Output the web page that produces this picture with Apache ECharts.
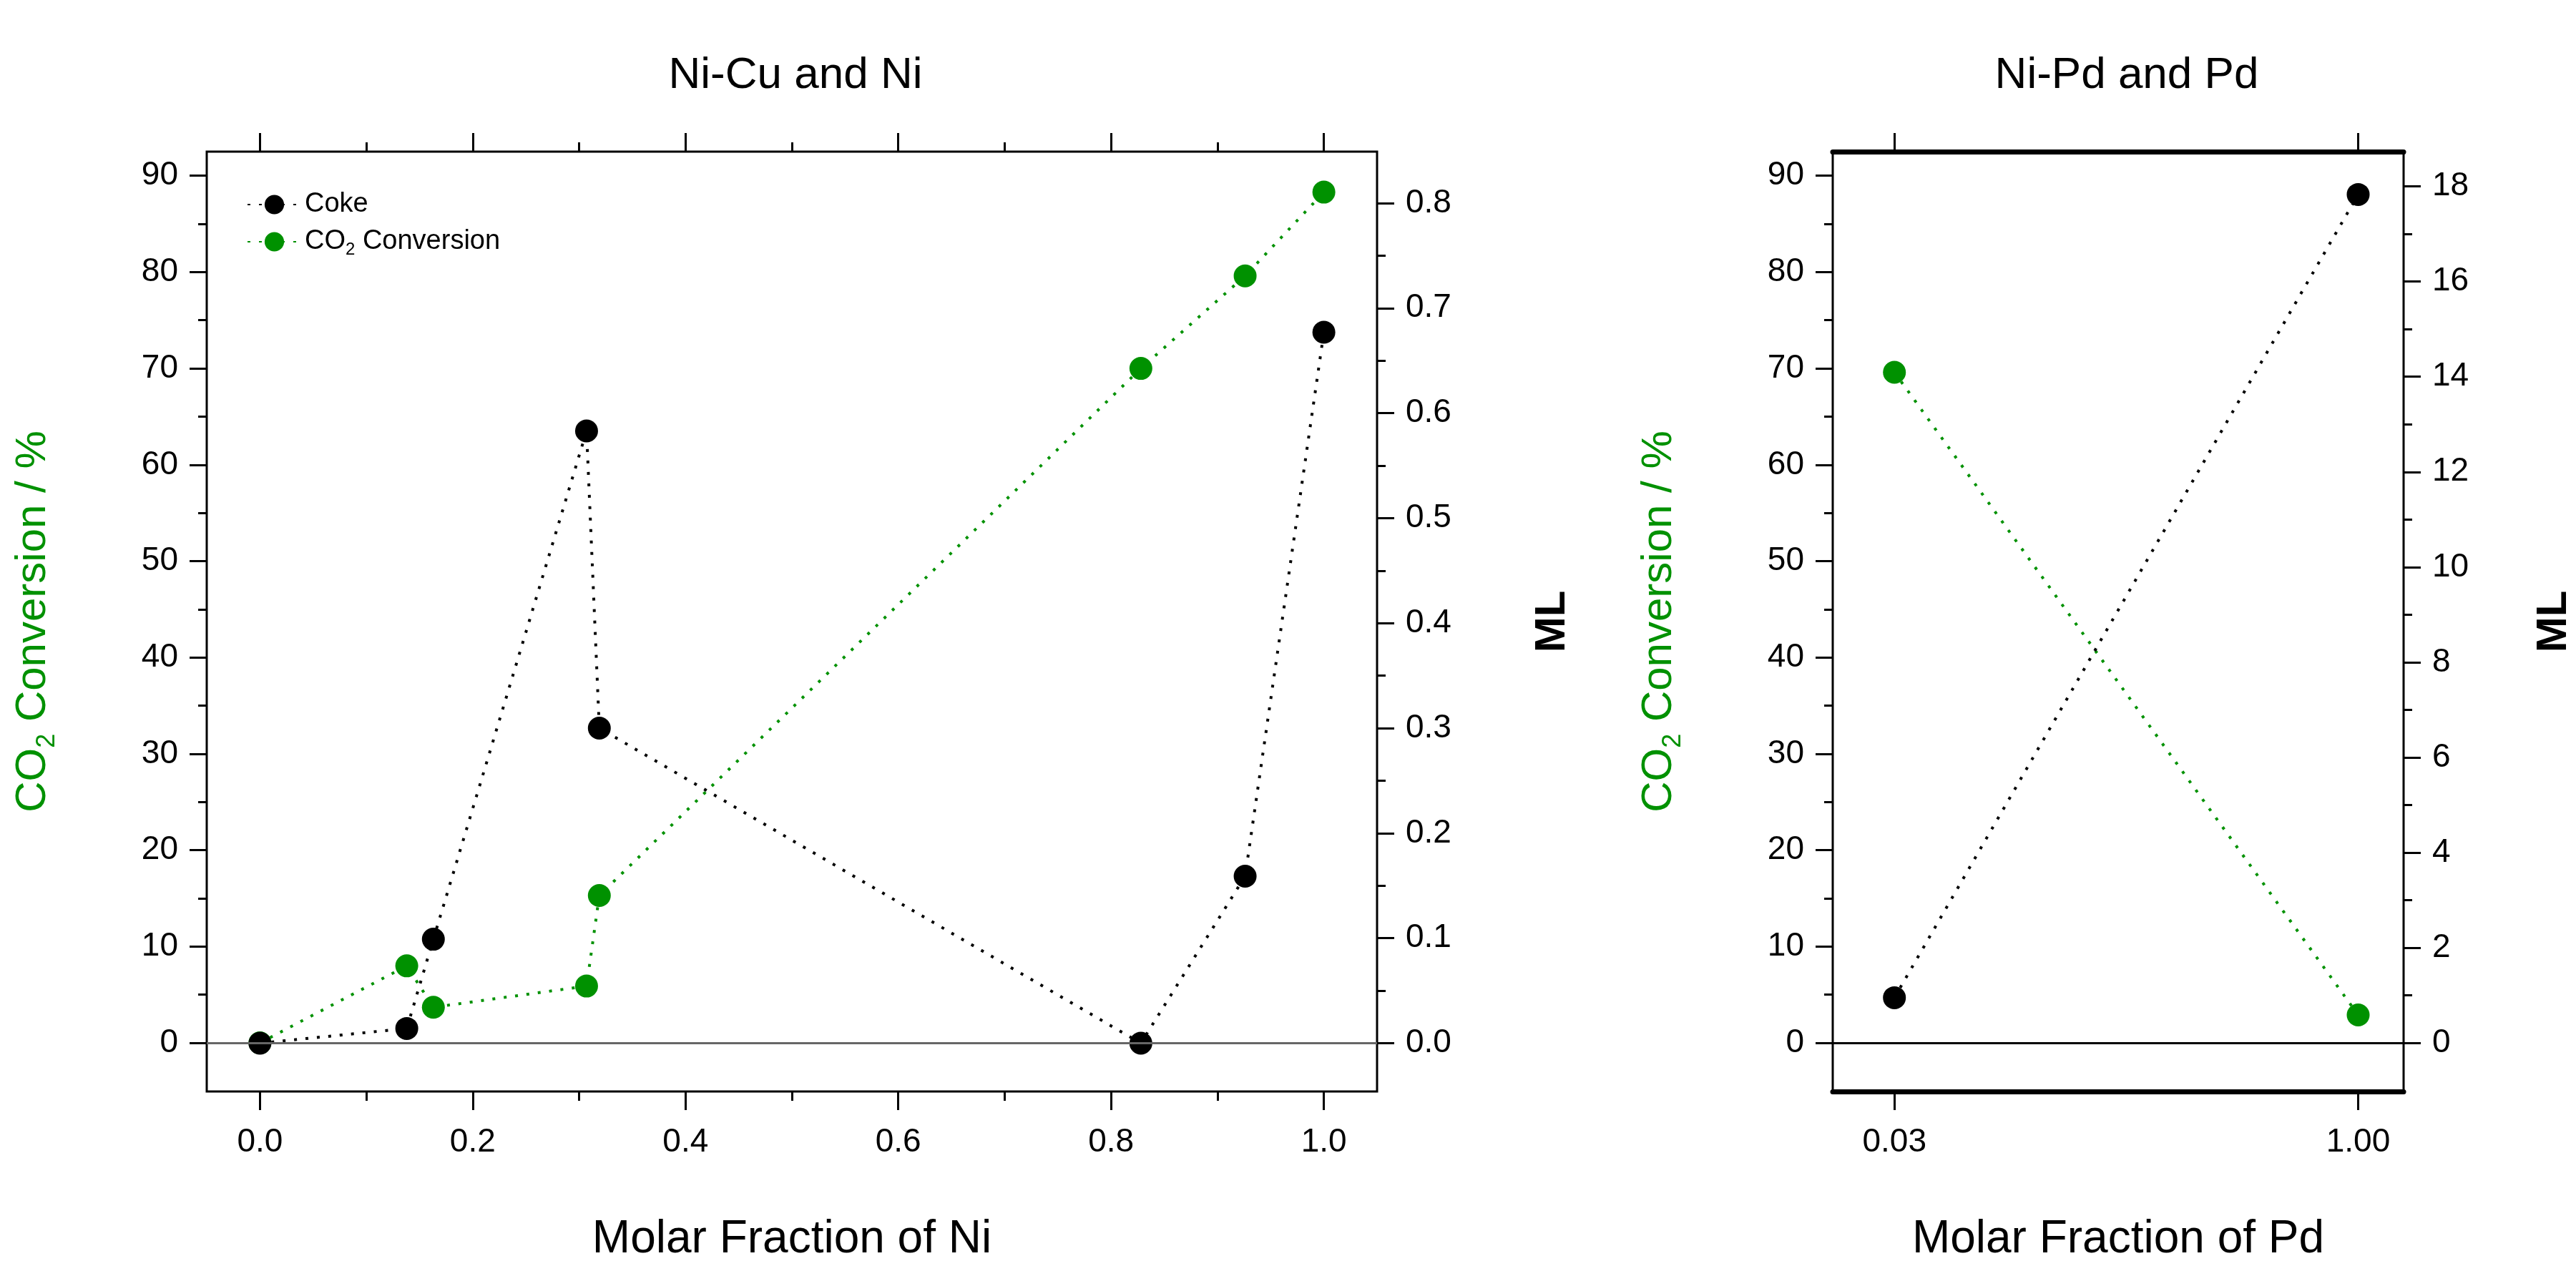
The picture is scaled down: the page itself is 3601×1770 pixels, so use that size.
<!DOCTYPE html>
<html>
<head>
<meta charset="utf-8">
<script src="https://cdn.jsdelivr.net/npm/echarts@6/dist/echarts.min.js"></script>
<style>
  html, body { margin: 0; padding: 0; background: #fff; }
  #chart { width: 3601px; height: 1770px; }
</style>
</head>
<body>
<div id="chart"></div>
<script>
// Ni-Cu and Ni panel
var niFraction = [0.0, 0.138, 0.163, 0.307, 0.319, 0.828, 0.926, 1.0];
var niCo2 = [0.0, 8.0, 3.7, 5.9, 15.3, 70.0, 79.6, 88.3];
var niCoke = [0.0, 0.014, 0.099, 0.583, 0.300, 0.0, 0.159, 0.677];
// Ni-Pd and Pd panel
var pdFraction = [0.03, 1.00];
var pdCo2 = [69.6, 2.9];
var pdCoke = [0.95, 17.83];
// tick labels
var co2Ticks = [0, 10, 20, 30, 40, 50, 60, 70, 80, 90];
var co2Minor = [5, 15, 25, 35, 45, 55, 65, 75, 85];
var niMLTicks = [0, 0.1, 0.2, 0.3, 0.4, 0.5, 0.6, 0.7, 0.8];
var niMLMinor = [0.05, 0.15, 0.25, 0.35, 0.45, 0.55, 0.65, 0.75];
var pdMLTicks = [0, 2, 4, 6, 8, 10, 12, 14, 16, 18];
var pdMLMinor = [1, 3, 5, 7, 9, 11, 13, 15, 17];
var niXTicks = [0, 0.2, 0.4, 0.6, 0.8, 1.0];
var niXMinor = [0.1, 0.3, 0.5, 0.7, 0.9];

var GREEN = '#009100';
var tickFont = 'Liberation Sans Narrow, Arial Narrow, Liberation Sans, sans-serif';
var labelFont = 'Liberation Sans Narrow, Liberation Sans, sans-serif';

var chart = echarts.init(document.getElementById('chart'));

function pairs(xs, ys) {
    return xs.map(function(x, i) { return [x, ys[i]]; });
}

function valAxis(o) {
    return {
        type: 'value',
        gridIndex: o.grid,
        position: o.position,
        min: o.min,
        max: o.max,
        name: o.name || '',
        nameLocation: 'middle',
        nameGap: o.nameGap || 0,
        nameRotate: o.nameRotate,
        nameTextStyle: o.nameStyle,
        splitLine: { show: false },
        axisLine: { show: false, onZero: false },
        axisTick: {
            show: true, inside: false, length: o.length,
            lineStyle: { color: '#000', width: 3 },
            customValues: o.ticks
        },
        axisLabel: {
            show: o.showLabel, margin: o.margin || 40,
            fontSize: 46, fontFamily: tickFont, color: '#000',
            customValues: o.ticks,
            formatter: function(v) { return o.digits != null ? Number(v).toFixed(o.digits) : String(v); }
        }
    };
}

var yAxes = [];
var xAxes = [];
// grid 0: left panel, grid 1: right panel
[0, 1].forEach(function(g) {
    yAxes.push(valAxis({ grid: g, position: 'left', min: -5.04, max: 92.5, ticks: co2Ticks, length: 24, showLabel: true,
        name: '{a|CO}{s|2}{a| Conversion / %}', nameGap: g === 0 ? 205 : 205, nameRotate: 90,
        nameStyle: { rich: {
            a: { fontSize: 60, color: GREEN, fontFamily: 'Liberation Sans, sans-serif' },
            s: { fontSize: 36, color: GREEN, fontFamily: 'Liberation Sans, sans-serif', verticalAlign: 'bottom', padding: [40, 0, 0, 0] }
        } } }));
    yAxes.push(valAxis({ grid: g, position: 'left', min: -5.04, max: 92.5, ticks: co2Minor, length: 12, showLabel: false }));
});
yAxes.push(valAxis({ grid: 0, position: 'right', min: -0.046, max: 0.849, ticks: niMLTicks, length: 24, showLabel: true, digits: 1,
    name: 'ML', nameGap: 215, nameRotate: 90,
    nameStyle: { fontSize: 60, fontWeight: 'bold', color: '#000', fontFamily: 'Liberation Sans, sans-serif' } }));
yAxes.push(valAxis({ grid: 0, position: 'right', min: -0.046, max: 0.849, ticks: niMLMinor, length: 12, showLabel: false }));
yAxes.push(valAxis({ grid: 1, position: 'right', min: -1.02, max: 18.73, ticks: pdMLTicks, length: 24, showLabel: true,
    name: 'ML', nameGap: 180, nameRotate: 90,
    nameStyle: { fontSize: 60, fontWeight: 'bold', color: '#000', fontFamily: 'Liberation Sans, sans-serif' } }));
yAxes.push(valAxis({ grid: 1, position: 'right', min: -1.02, max: 18.73, ticks: pdMLMinor, length: 12, showLabel: false }));

var xNameStyle = { fontSize: 64, color: '#000', fontFamily: labelFont };
xAxes.push(valAxis({ grid: 0, position: 'bottom', min: -0.05, max: 1.05, ticks: niXTicks, length: 26, showLabel: true, digits: 1,
    name: 'Molar Fraction of Ni', nameGap: 175, nameStyle: xNameStyle, margin: 48 }));
xAxes.push(valAxis({ grid: 0, position: 'bottom', min: -0.05, max: 1.05, ticks: niXMinor, length: 13, showLabel: false }));
xAxes.push(valAxis({ grid: 0, position: 'top', min: -0.05, max: 1.05, ticks: niXTicks, length: 26, showLabel: false }));
xAxes.push(valAxis({ grid: 0, position: 'top', min: -0.05, max: 1.05, ticks: niXMinor, length: 13, showLabel: false }));
xAxes.push(valAxis({ grid: 1, position: 'bottom', min: -0.099, max: 1.095, ticks: pdFraction, length: 26, showLabel: true, digits: 2,
    name: 'Molar Fraction of Pd', nameGap: 175, nameStyle: xNameStyle, margin: 48 }));
xAxes.push(valAxis({ grid: 1, position: 'top', min: -0.099, max: 1.095, ticks: pdFraction, length: 26, showLabel: false }));
// thick top/bottom edges of the right panel
xAxes[4].axisLine = { show: true, onZero: false, lineStyle: { color: '#000', width: 7 } };
xAxes[5].axisLine = { show: true, onZero: false, lineStyle: { color: '#000', width: 7 } };

function zeroLine(color) {
    return {
        silent: true, symbol: 'none', label: { show: false },
        lineStyle: { color: color, type: 'solid', width: 3 },
        data: [{ yAxis: 0 }]
    };
}

function dotted(name, color, xi, yi, data, extra) {
    var s = {
        name: name, type: 'line', xAxisIndex: xi, yAxisIndex: yi,
        data: data, symbol: 'circle', symbolSize: 32,
        itemStyle: { color: color },
        lineStyle: { color: color, type: [4, 12], width: 4 },
        z: color === GREEN ? 3 : 4
    };
    if (extra) s.markLine = extra;
    return s;
}

var option = {
    backgroundColor: '#fff',
    animation: false,
    title: [
        { text: 'Ni-Cu and Ni', left: 1107, top: 70, textAlign: 'center',
          textStyle: { fontSize: 62, fontWeight: 'normal', color: '#000', fontFamily: labelFont } },
        { text: 'Ni-Pd and Pd', left: 2968, top: 70, textAlign: 'center',
          textStyle: { fontSize: 62, fontWeight: 'normal', color: '#000', fontFamily: labelFont } }
    ],
    legend: {
        left: 340, top: 262, orient: 'vertical', itemGap: 14,
        itemWidth: 75, itemHeight: 34,
        data: ['Coke', 'CO2 Conversion'],
        formatter: function(n) { return n === 'Coke' ? 'Coke' : 'CO{s|2} Conversion'; },
        textStyle: { fontSize: 38, color: '#000', fontFamily: labelFont,
            rich: { s: { fontSize: 24, verticalAlign: 'bottom', padding: [22, 0, 0, 0], fontFamily: labelFont } } }
    },
    grid: [
        { left: 289, top: 212, width: 1636, height: 1315, show: true, borderColor: '#000', borderWidth: 3 },
        { left: 2562, top: 212, width: 812, height: 1315, show: true, borderColor: '#000', borderWidth: 3 }
    ],
    xAxis: xAxes,
    yAxis: yAxes,
    series: [
        dotted('CO2 Conversion', GREEN, 0, 0, pairs(niFraction, niCo2), zeroLine('#666')),
        dotted('Coke', '#000', 0, 4, pairs(niFraction, niCoke)),
        dotted('CO2 Conversion', GREEN, 4, 2, pairs(pdFraction, pdCo2), zeroLine('#000')),
        dotted('Coke', '#000', 4, 6, pairs(pdFraction, pdCoke))
    ]
};
chart.setOption(option);
</script>
</body>
</html>
